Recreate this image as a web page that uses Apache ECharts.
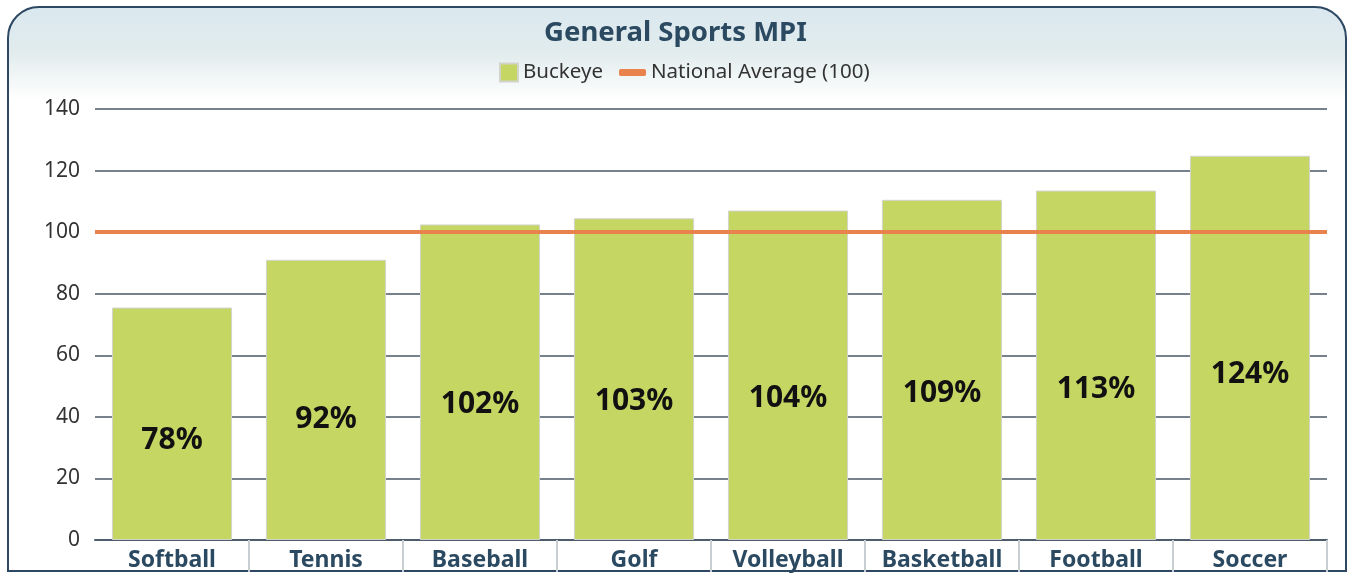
<!DOCTYPE html>
<html>
<head>
<meta charset="utf-8">
<script src="https://cdn.jsdelivr.net/npm/echarts@6/dist/echarts.min.js"></script>
<style>
html,body{margin:0;padding:0;background:#fff;}
#frame{position:absolute;left:7px;top:6px;width:1336px;height:562px;border:2px solid #2d4862;border-radius:32px 32px 0 0;
background:linear-gradient(to bottom,#dae8ef 0px,#e2eced 45px,#ffffff 92px);}
#chart{position:absolute;left:0;top:0;width:1351px;height:575px;}
</style>
</head>
<body>
<div id="frame"></div>
<div id="chart"></div>
<script>
const categories = ['Softball','Tennis','Baseball','Golf','Volleyball','Basketball','Football','Soccer'];
const buckeyeValues = [75.5, 91, 102.5, 104.5, 107, 110.5, 113.5, 124.8];
const valueLabels = ['78%','92%','102%','103%','104%','109%','113%','124%'];
const nationalAverage = 100;
const yTicks = [0, 20, 40, 60, 80, 100, 120, 140];

const FONT = '"Noto Sans", "Open Sans", sans-serif';
const chart = echarts.init(document.getElementById('chart'));
chart.setOption({
  animation: false,
  backgroundColor: 'transparent',
  textStyle: {fontFamily: FONT},
  title: {
    text: 'General Sports MPI', left: 'center', top: 14,
    textStyle: {fontFamily: FONT, fontSize: 27.5, fontWeight: 'bold', color: '#2b4a62'}
  },
  legend: [
    {data: [{name: 'Buckeye', icon: 'rect'}], left: 494, top: 57, itemWidth: 18, itemHeight: 18, itemGap: 8,
     textStyle: {fontFamily: FONT, fontSize: 20.5, color: '#333'}},
    {data: [{name: 'National Average (100)', icon: 'roundRect'}], left: 614, top: 57, itemWidth: 27, itemHeight: 7,
     textStyle: {fontFamily: FONT, fontSize: 20.5, color: '#333'}}
  ],
  grid: {left: 95, right: 24, top: 109, bottom: 35, containLabel: false},
  xAxis: {
    type: 'category', data: categories,
    axisLine: {show: true, lineStyle: {color: '#4d5d6b', width: 2}},
    axisTick: {show: true, length: 32, lineStyle: {color: '#c9ced3', width: 2},
               interval: function (i) { return i > 0; }},
    axisLabel: {interval: 0, fontFamily: FONT, fontSize: 23, fontWeight: 'bold', color: '#2b4a62', margin: 9}
  },
  yAxis: {
    type: 'value', min: 0, max: 140, interval: 20,
    axisLine: {show: false}, axisTick: {show: false},
    axisLabel: {fontFamily: FONT, fontSize: 21, color: '#333', margin: 15,
                formatter: function (v) { return yTicks.indexOf(v) >= 0 ? String(v) : ''; }},
    splitLine: {lineStyle: {color: '#76818c', width: 2}}
  },
  series: [
    {
      name: 'Buckeye', type: 'bar', data: buckeyeValues, barCategoryGap: '22%',
      itemStyle: {color: '#c6d662', borderColor: '#d2d4cc', borderWidth: 1},
      label: {
        show: true, position: ['50%', '57%'], align: 'center', verticalAlign: 'middle',
        fontFamily: FONT, fontSize: 30, fontWeight: 'bold', color: '#111',
        formatter: function (p) { return valueLabels[p.dataIndex]; }
      },
      z: 2
    },
    {
      name: 'National Average (100)', type: 'line', data: [],
      itemStyle: {color: '#e9834d'}, lineStyle: {color: '#e9834d', width: 4},
      symbol: 'none',
      markLine: {
        silent: true, symbol: ['none', 'none'], label: {show: false},
        lineStyle: {color: '#e9834d', width: 4, type: 'solid'},
        data: [{yAxis: nationalAverage}]
      },
      z: 5
    }
  ]
});
</script>
</body>
</html>
